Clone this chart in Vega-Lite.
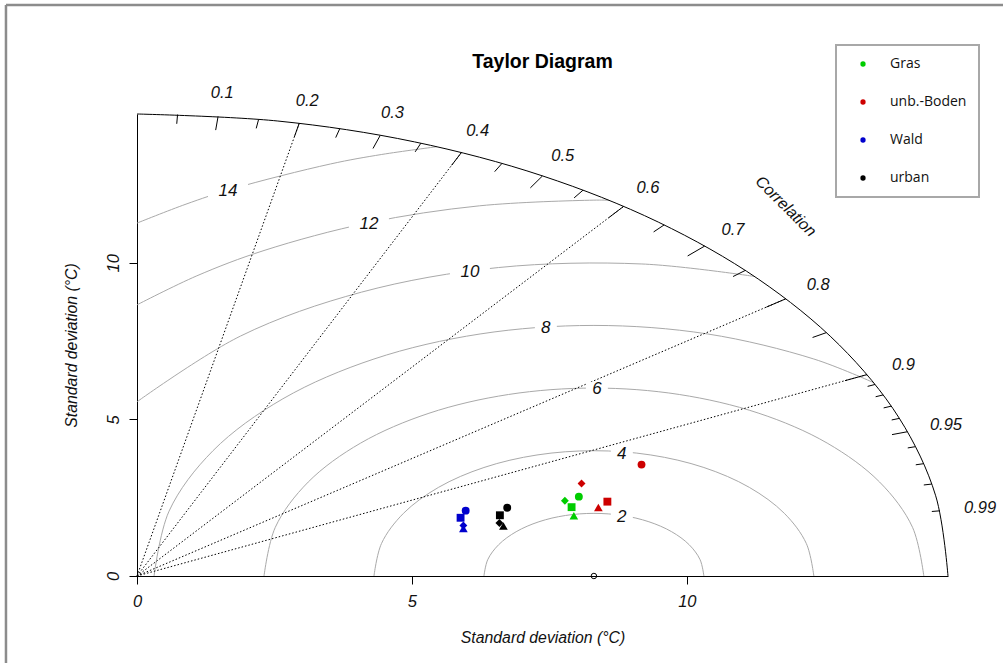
{
  "$schema": "https://vega.github.io/schema/vega-lite/v6.json",
  "width": 811,
  "height": 462,
  "autosize": {"type": "none"},
  "padding": {"left": 137, "top": 114, "right": 55, "bottom": 87},
  "background": "white",
  "title": {
    "text": "Taylor Diagram",
    "frame": "group",
    "anchor": "middle",
    "offset": -69,
    "font": "Liberation Sans",
    "fontSize": 19.5,
    "fontWeight": "bold",
    "color": "#000000"
  },
  "config": {
    "view": {"stroke": null},
    "font": "Liberation Sans",
    "axis": {
      "grid": false,
      "domainColor": "#000000",
      "tickColor": "#000000",
      "labelColor": "#111111",
      "titleColor": "#111111",
      "labelFont": "Liberation Sans",
      "labelFontSize": 16.5,
      "labelFontStyle": "italic",
      "titleFont": "Liberation Sans",
      "titleFontSize": 15.8,
      "titleFontStyle": "italic",
      "titleFontWeight": "normal",
      "tickSize": 8,
      "labelFlush": false,
      "labelOverlap": false
    },
    "legend": {"strokeWidth": 2}
  },
  "datasets": {
    "frame": [
      {"x": -2.383, "y": -3, "x2": -2.383, "y2": 18.23},
      {"x": -2.383, "y": 18.23, "x2": 16.5, "y2": 18.23}
    ],
    "contours": [
      {"c": "2", "i": 0, "x": 10.31, "y": 0},
      {"c": "2", "i": 1, "x": 10.242, "y": 0.518},
      {"c": "2", "i": 2, "x": 10.042, "y": 1.0},
      {"c": "2", "i": 3, "x": 9.724, "y": 1.414},
      {"c": "2", "i": 4, "x": 9.31, "y": 1.732},
      {"c": "2", "i": 5, "x": 8.828, "y": 1.932},
      {"c": "2", "i": 6, "x": 8.31, "y": 2.0},
      {"c": "2", "i": 7, "x": 7.792, "y": 1.932},
      {"c": "2", "i": 8, "x": 7.31, "y": 1.732},
      {"c": "2", "i": 9, "x": 6.896, "y": 1.414},
      {"c": "2", "i": 10, "x": 6.578, "y": 1.0},
      {"c": "2", "i": 11, "x": 6.378, "y": 0.518},
      {"c": "2", "i": 12, "x": 6.31, "y": 0},
      {"c": "4", "i": 0, "x": 12.31, "y": 0},
      {"c": "4", "i": 1, "x": 12.174, "y": 1.035},
      {"c": "4", "i": 2, "x": 11.774, "y": 2.0},
      {"c": "4", "i": 3, "x": 11.138, "y": 2.828},
      {"c": "4", "i": 4, "x": 10.31, "y": 3.464},
      {"c": "4", "i": 5, "x": 9.345, "y": 3.864},
      {"c": "4", "i": 6, "x": 8.31, "y": 4.0},
      {"c": "4", "i": 7, "x": 7.275, "y": 3.864},
      {"c": "4", "i": 8, "x": 6.31, "y": 3.464},
      {"c": "4", "i": 9, "x": 5.482, "y": 2.828},
      {"c": "4", "i": 10, "x": 4.846, "y": 2.0},
      {"c": "4", "i": 11, "x": 4.446, "y": 1.035},
      {"c": "4", "i": 12, "x": 4.31, "y": 0},
      {"c": "6", "i": 0, "x": 14.31, "y": 0},
      {"c": "6", "i": 1, "x": 14.105, "y": 1.553},
      {"c": "6", "i": 2, "x": 13.506, "y": 3.0},
      {"c": "6", "i": 3, "x": 12.553, "y": 4.243},
      {"c": "6", "i": 4, "x": 11.31, "y": 5.196},
      {"c": "6", "i": 5, "x": 9.863, "y": 5.795},
      {"c": "6", "i": 6, "x": 8.31, "y": 6.0},
      {"c": "6", "i": 7, "x": 6.757, "y": 5.795},
      {"c": "6", "i": 8, "x": 5.31, "y": 5.196},
      {"c": "6", "i": 9, "x": 4.067, "y": 4.243},
      {"c": "6", "i": 10, "x": 3.114, "y": 3.0},
      {"c": "6", "i": 11, "x": 2.515, "y": 1.553},
      {"c": "6", "i": 12, "x": 2.31, "y": 0},
      {"c": "8", "i": 0, "x": 13.395, "y": 6.175},
      {"c": "8", "i": 1, "x": 12.31, "y": 6.928},
      {"c": "8", "i": 2, "x": 10.38, "y": 7.727},
      {"c": "8", "i": 3, "x": 8.31, "y": 8.0},
      {"c": "8", "i": 4, "x": 6.24, "y": 7.727},
      {"c": "8", "i": 5, "x": 4.31, "y": 6.928},
      {"c": "8", "i": 6, "x": 2.653, "y": 5.657},
      {"c": "8", "i": 7, "x": 1.382, "y": 4.0},
      {"c": "8", "i": 8, "x": 0.583, "y": 2.07},
      {"c": "8", "i": 9, "x": 0.31, "y": 0},
      {"c": "10", "i": 0, "x": 11.229, "y": 9.564},
      {"c": "10", "i": 1, "x": 9.182, "y": 9.962},
      {"c": "10", "i": 2, "x": 6.574, "y": 9.848},
      {"c": "10", "i": 3, "x": 4.084, "y": 9.063},
      {"c": "10", "i": 4, "x": 1.882, "y": 7.66},
      {"c": "10", "i": 5, "x": 0, "y": 5.562},
      {"c": "12", "i": 0, "x": 8.581, "y": 11.997},
      {"c": "12", "i": 1, "x": 8.31, "y": 12.0},
      {"c": "12", "i": 2, "x": 6.226, "y": 11.818},
      {"c": "12", "i": 3, "x": 4.206, "y": 11.276},
      {"c": "12", "i": 4, "x": 2.31, "y": 10.392},
      {"c": "12", "i": 5, "x": 1.088, "y": 9.583},
      {"c": "12", "i": 6, "x": 0, "y": 8.657},
      {"c": "14", "i": 0, "x": 5.453, "y": 13.705},
      {"c": "14", "i": 1, "x": 4.451, "y": 13.458},
      {"c": "14", "i": 2, "x": 3.522, "y": 13.156},
      {"c": "14", "i": 3, "x": 1.737, "y": 12.361},
      {"c": "14", "i": 4, "x": 0.891, "y": 11.872},
      {"c": "14", "i": 5, "x": 0, "y": 11.267}
    ],
    "rmsLabels": [
      {"lab": "2", "x": 8.818, "y": 1.885},
      {"lab": "4", "x": 8.818, "y": 3.898},
      {"lab": "6", "x": 8.364, "y": 5.974},
      {"lab": "8", "x": 7.436, "y": 7.923},
      {"lab": "10", "x": 6.055, "y": 9.712},
      {"lab": "12", "x": 4.218, "y": 11.246},
      {"lab": "14", "x": 1.655, "y": 12.3}
    ],
    "corrLines": [
      {"r": 0.2, "x": 0, "y": 0, "x2": 2.95, "y2": 14.452},
      {"r": 0.4, "x": 0, "y": 0, "x2": 5.9, "y2": 13.519},
      {"r": 0.6, "x": 0, "y": 0, "x2": 8.85, "y2": 11.8},
      {"r": 0.8, "x": 0, "y": 0, "x2": 11.8, "y2": 8.85},
      {"r": 0.9, "x": 0, "y": 0, "x2": 13.275, "y2": 6.429}
    ],
    "outerArc": [
      {"i": 0, "x": 14.75, "y": 0},
      {"i": 1, "x": 14.526, "y": 2.561},
      {"i": 2, "x": 13.861, "y": 5.045},
      {"i": 3, "x": 12.774, "y": 7.375},
      {"i": 4, "x": 11.299, "y": 9.481},
      {"i": 5, "x": 9.481, "y": 11.299},
      {"i": 6, "x": 7.375, "y": 12.774},
      {"i": 7, "x": 5.045, "y": 13.861},
      {"i": 8, "x": 2.561, "y": 14.526},
      {"i": 9, "x": 0, "y": 14.75}
    ],
    "corrTicks": [
      {"r": 0.1, "x": 1.475, "y": 14.676, "x2": 1.431, "y2": 14.236},
      {"r": 0.2, "x": 2.95, "y": 14.452, "x2": 2.8615, "y2": 14.018},
      {"r": 0.3, "x": 4.425, "y": 14.071, "x2": 4.292, "y2": 13.649},
      {"r": 0.4, "x": 5.9, "y": 13.519, "x2": 5.723, "y2": 13.113},
      {"r": 0.5, "x": 7.375, "y": 12.774, "x2": 7.154, "y2": 12.391},
      {"r": 0.6, "x": 8.85, "y": 11.8, "x2": 8.5845, "y2": 11.446},
      {"r": 0.7, "x": 10.325, "y": 10.534, "x2": 10.015, "y2": 10.218},
      {"r": 0.8, "x": 11.8, "y": 8.85, "x2": 11.446, "y2": 8.5845},
      {"r": 0.9, "x": 13.275, "y": 6.429, "x2": 12.877, "y2": 6.237},
      {"r": 0.05, "x": 0.7375, "y": 14.732, "x2": 0.7228, "y2": 14.437},
      {"r": 0.15, "x": 2.2125, "y": 14.583, "x2": 2.168, "y2": 14.291},
      {"r": 0.25, "x": 3.6875, "y": 14.282, "x2": 3.614, "y2": 13.996},
      {"r": 0.35, "x": 5.1625, "y": 13.817, "x2": 5.059, "y2": 13.541},
      {"r": 0.45, "x": 6.6375, "y": 13.172, "x2": 6.505, "y2": 12.909},
      {"r": 0.55, "x": 8.1125, "y": 12.319, "x2": 7.95, "y2": 12.072},
      {"r": 0.65, "x": 9.5875, "y": 11.209, "x2": 9.396, "y2": 10.985},
      {"r": 0.75, "x": 11.0625, "y": 9.756, "x2": 10.841, "y2": 9.561},
      {"r": 0.85, "x": 12.5375, "y": 7.77, "x2": 12.287, "y2": 7.615},
      {"r": 0.95, "x": 14.0125, "y": 4.606, "x2": 13.732, "y2": 4.514},
      {"r": 0.91, "x": 13.4225, "y": 6.115, "x2": 13.288, "y2": 6.054},
      {"r": 0.92, "x": 13.57, "y": 5.781, "x2": 13.434, "y2": 5.723},
      {"r": 0.93, "x": 13.7175, "y": 5.422, "x2": 13.58, "y2": 5.367},
      {"r": 0.94, "x": 13.865, "y": 5.032, "x2": 13.726, "y2": 4.982},
      {"r": 0.96, "x": 14.16, "y": 4.13, "x2": 14.018, "y2": 4.089},
      {"r": 0.97, "x": 14.3075, "y": 3.586, "x2": 14.164, "y2": 3.55},
      {"r": 0.98, "x": 14.455, "y": 2.935, "x2": 14.31, "y2": 2.906},
      {"r": 0.99, "x": 14.6025, "y": 2.081, "x2": 14.456, "y2": 2.06}
    ],
    "corrLabels": [
      {"lab": "0.1", "x": 1.549, "y": 15.41},
      {"lab": "0.2", "x": 3.0975, "y": 15.175},
      {"lab": "0.3", "x": 4.646, "y": 14.774},
      {"lab": "0.4", "x": 6.195, "y": 14.194},
      {"lab": "0.5", "x": 7.744, "y": 13.413},
      {"lab": "0.6", "x": 9.2925, "y": 12.39},
      {"lab": "0.7", "x": 10.841, "y": 11.06},
      {"lab": "0.8", "x": 12.39, "y": 9.2925},
      {"lab": "0.9", "x": 13.939, "y": 6.751},
      {"lab": "0.95", "x": 14.713, "y": 4.836},
      {"lab": "0.99", "x": 15.333, "y": 2.185}
    ],
    "corrTitle": [
      {"lab": "Correlation", "x": 11.8, "y": 11.8}
    ],
    "refPoint": [
      {"x": 8.31, "y": 0}
    ],
    "stations": [
      {"Klasse": "Gras", "Variante": "A", "x": 8.036, "y": 2.534},
      {"Klasse": "Gras", "Variante": "B", "x": 7.782, "y": 2.403},
      {"Klasse": "Gras", "Variante": "C", "x": 7.904, "y": 2.198},
      {"Klasse": "Gras", "Variante": "D", "x": 7.945, "y": 1.923},
      {"Klasse": "unb.-Boden", "Variante": "A", "x": 9.176, "y": 3.556},
      {"Klasse": "unb.-Boden", "Variante": "B", "x": 8.085, "y": 2.955},
      {"Klasse": "unb.-Boden", "Variante": "C", "x": 8.555, "y": 2.374},
      {"Klasse": "unb.-Boden", "Variante": "D", "x": 8.391, "y": 2.188},
      {"Klasse": "Wald", "Variante": "A", "x": 5.978, "y": 2.086},
      {"Klasse": "Wald", "Variante": "B", "x": 5.936, "y": 1.613},
      {"Klasse": "Wald", "Variante": "C", "x": 5.885, "y": 1.859},
      {"Klasse": "Wald", "Variante": "D", "x": 5.936, "y": 1.518},
      {"Klasse": "urban", "Variante": "A", "x": 6.733, "y": 2.179},
      {"Klasse": "urban", "Variante": "B", "x": 6.591, "y": 1.693},
      {"Klasse": "urban", "Variante": "C", "x": 6.6, "y": 1.939},
      {"Klasse": "urban", "Variante": "D", "x": 6.664, "y": 1.597}
    ]
  },
  "encoding": {
    "x": {
      "field": "x",
      "type": "quantitative",
      "scale": {"domain": [0, 14.75], "nice": false, "zero": false},
      "axis": {
        "values": [0, 5, 10],
        "title": "Standard deviation (°C)",
        "labelPadding": 9,
        "titlePadding": 21
      }
    },
    "y": {
      "field": "y",
      "type": "quantitative",
      "scale": {"domain": [0, 14.75], "nice": false, "zero": false},
      "axis": {
        "values": [0, 5, 10],
        "title": "Standard deviation (°C)",
        "labelAngle": -90,
        "labelPadding": 8,
        "titlePadding": 26
      }
    }
  },
  "layer": [
    {
      "data": {"name": "frame"},
      "mark": {"type": "rule", "color": "#8c8c8c", "strokeWidth": 2.5},
      "encoding": {"x2": {"field": "x2"}, "y2": {"field": "y2"}}
    },
    {
      "data": {"name": "contours"},
      "mark": {"type": "line", "color": "#a9a9a9", "strokeWidth": 1, "interpolate": "catmull-rom"},
      "encoding": {
        "detail": {"field": "c"},
        "order": {"field": "i", "type": "quantitative"}
      }
    },
    {
      "data": {"name": "corrLines"},
      "mark": {"type": "rule", "color": "#000000", "strokeWidth": 1, "strokeDash": [1.5, 2]},
      "encoding": {"x2": {"field": "x2"}, "y2": {"field": "y2"}}
    },
    {
      "data": {"name": "rmsLabels"},
      "transform": [{"filter": {"field": "lab", "oneOf": ["2", "4", "6", "8"]}}],
      "mark": {"type": "point", "filled": true, "color": "white", "opacity": 1, "strokeWidth": 0, "size": 484, "shape": "M-1,-0.64H1V0.64H-1Z"}
    },
    {
      "data": {"name": "rmsLabels"},
      "transform": [{"filter": {"field": "lab", "oneOf": ["10", "12", "14"]}}],
      "mark": {"type": "point", "filled": true, "color": "white", "opacity": 1, "strokeWidth": 0, "size": 1600, "shape": "M-1,-0.36H1V0.36H-1Z"}
    },
    {
      "data": {"name": "outerArc"},
      "mark": {"type": "line", "color": "#000000", "strokeWidth": 1, "interpolate": "catmull-rom"},
      "encoding": {"order": {"field": "i", "type": "quantitative"}}
    },
    {
      "data": {"name": "corrTicks"},
      "mark": {"type": "rule", "color": "#000000", "strokeWidth": 1},
      "encoding": {"x2": {"field": "x2"}, "y2": {"field": "y2"}}
    },
    {
      "data": {"name": "rmsLabels"},
      "mark": {"type": "text", "font": "Liberation Sans", "fontSize": 17, "fontStyle": "italic", "color": "#111111", "align": "center", "baseline": "middle"},
      "encoding": {"text": {"field": "lab"}}
    },
    {
      "data": {"name": "corrLabels"},
      "mark": {"type": "text", "font": "Liberation Sans", "fontSize": 16.5, "fontStyle": "italic", "color": "#111111", "align": "center", "baseline": "middle"},
      "encoding": {"text": {"field": "lab"}}
    },
    {
      "data": {"name": "corrTitle"},
      "mark": {"type": "text", "font": "Liberation Sans", "fontSize": 16, "fontStyle": "italic", "color": "#111111", "align": "center", "baseline": "middle", "angle": 45},
      "encoding": {"text": {"field": "lab"}}
    },
    {
      "data": {"name": "refPoint"},
      "mark": {"type": "point", "shape": "circle", "filled": false, "color": "#000000", "size": 30, "strokeWidth": 1, "opacity": 1}
    },
    {
      "data": {"name": "stations"},
      "mark": {"type": "point", "filled": true, "opacity": 1, "size": 62},
      "encoding": {
        "color": {
          "field": "Klasse",
          "type": "nominal",
          "scale": {
            "domain": ["Gras", "unb.-Boden", "Wald", "urban"],
            "range": ["#00cd00", "#cd0000", "#0000cd", "#000000"]
          },
          "legend": {
            "orient": "none",
            "legendX": 699,
            "legendY": -69,
            "title": null,
            "symbolType": "circle",
            "symbolSize": 28,
            "labelFont": "Open Sans",
            "labelFontSize": 14,
            "labelColor": "#111111",
            "rowPadding": 24,
            "padding": 12,
            "symbolOffset": 8,
            "labelOffset": 20,
            "strokeColor": "#a8a8a8",
            "fillColor": "white"
          }
        },
        "shape": {
          "field": "Variante",
          "type": "nominal",
          "scale": {
            "domain": ["A", "B", "C", "D"],
            "range": ["circle", "diamond", "square", "M0,-0.95L1.1,0.95L-1.1,0.95Z"]
          },
          "legend": null
        }
      }
    }
  ]
}
